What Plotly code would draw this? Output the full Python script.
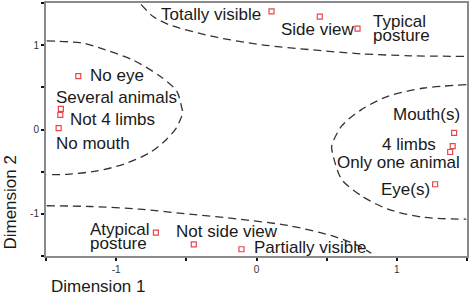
import plotly.graph_objects as go

# ---- data ----
categories = ["No eye", "Several animals", "Not 4 limbs", "No mouth",
              "Totally visible", "Side view", "Typical posture",
              "Mouth(s)", "4 limbs", "Only one animal", "Eye(s)",
              "Atypical posture", "Not side view", "Partially visible"]
dim1 = [-1.27, -1.394, -1.398, -1.41, 0.107, 0.451, 0.72,
        1.408, 1.398, 1.38, 1.273, -0.717, -0.447, -0.107]
dim2 = [0.634, 0.244, 0.174, 0.016, 1.40, 1.339, 1.197,
        -0.039, -0.196, -0.267, -0.649, -1.223, -1.361, -1.42]

# dashed group boundaries
left_x = [-1.495, -1.233, -1.113, -0.880, -0.689, -0.569, -0.534, -0.527,
          -0.571, -0.642, -0.760, -0.948, -1.136, -1.348, -1.495]
left_y = [1.051, 1.024, 0.965, 0.823, 0.634, 0.457, 0.268, 0.197,
          0.020, -0.118, -0.274, -0.413, -0.491, -0.531, -0.535]
top_x = [-0.823, -0.736, -0.618, -0.312, 0.041, 0.394, 0.748, 1.101, 1.495]
top_y = [1.484, 1.339, 1.240, 1.103, 1.004, 0.945, 0.897, 0.874, 0.867]
right_x = [1.495, 1.196, 0.936, 0.748, 0.606, 0.536, 0.541,
           0.606, 0.748, 0.936, 1.196, 1.495]
right_y = [0.531, 0.492, 0.394, 0.236, 0.040, -0.196, -0.275,
           -0.590, -0.786, -0.945, -1.042, -1.063]
bottom_x = [-1.495, -1.184, -0.830, -0.477, -0.124, 0.230, 0.536, 0.724, 0.818]
bottom_y = [-0.904, -0.913, -0.945, -1.004, -1.063, -1.140, -1.259, -1.377, -1.468]

tick_vals = [-1.5, -1, -0.5, 0, 0.5, 1, 1.5]
tick_text = ["", "-1", "", "0", "", "1", ""]

# ---- label placement (style: lines of text, anchor, pixel offsets) ----
label_style = [
    (["No eye"], "left", 10, [1]),
    (["Several animals"], "left", -7, [11]),
    (["Not 4 limbs"], "left", 8, [-5]),
    (["No mouth"], "left", -5, [-15]),
    (["Totally visible"], "right", -9, [-3]),
    (["Side view"], "center", -2, [-13]),
    (["Typical", "posture"], "left", 13, [7, -7]),
    (["Mouth(s)"], "right", 8, [18]),
    (["4 limbs"], "right", -15, [2]),
    (["Only one animal"], "right", 12, [-10]),
    (["Eye(s)"], "right", -3, [-5]),
    (["Atypical", "posture"], "left", -68, [3, -11]),
    (["Not side view"], "left", -20, [13]),
    (["Partially visible"], "left", 11, [2]),
]

FONT = "Liberation Sans, Arial, Helvetica, sans-serif"
dash = "8px,5px"
curve_line = dict(color="#333333", width=1.3, dash=dash, shape="spline", smoothing=0.8)

fig = go.Figure()
for cx, cy in [(left_x, left_y), (top_x, top_y), (right_x, right_y), (bottom_x, bottom_y)]:
    fig.add_trace(go.Scatter(x=cx, y=cy, mode="lines", line=curve_line,
                             hoverinfo="skip", showlegend=False))

fig.add_trace(go.Scatter(x=dim1, y=dim2, mode="markers", text=categories,
                         marker=dict(symbol="square-open", size=5,
                                     color="#e8474a", line=dict(width=1.2, color="#e8474a")),
                         showlegend=False, cliponaxis=False))

annotations = []
for (lines, anchor, xs, yss), px, py in zip(label_style, dim1, dim2):
    for txt, ys in zip(lines, yss):
        annotations.append(dict(x=px, y=py, xref="x", yref="y", text=txt,
                                showarrow=False, xanchor=anchor, yanchor="middle",
                                xshift=xs, yshift=ys,
                                font=dict(family=FONT, size=17, color="#1a1a1a")))

annotations.append(dict(text="Dimension 1", x=0.125, y=-0.12, xref="paper", yref="paper",
                        showarrow=False, xanchor="center", yanchor="middle",
                        font=dict(family=FONT, size=17, color="#1a1a1a")))
annotations.append(dict(text="Dimension 2", x=-0.085, y=0.212, xref="paper", yref="paper",
                        showarrow=False, xanchor="center", yanchor="middle", textangle=-90,
                        font=dict(family=FONT, size=17, color="#1a1a1a")))

axis_common = dict(range=[-1.5, 1.5], tickvals=tick_vals, ticktext=tick_text,
                   showgrid=False, zeroline=False, showline=True, mirror=True,
                   linecolor="#8a8a8a", linewidth=2, ticks="outside", ticklen=3,
                   tickwidth=2, tickcolor="#111111",
                   tickfont=dict(family=FONT, size=10, color="#333333"))

fig.update_layout(
    width=470, height=298,
    margin=dict(l=46, r=1, t=1, b=42),
    paper_bgcolor="white", plot_bgcolor="white",
    xaxis=axis_common, yaxis=axis_common,
    annotations=annotations,
    showlegend=False,
)

fig.write_html("out.html", config={"displayModeBar": False},
               post_script="document.body.style.margin='0';document.body.style.padding='0';")
